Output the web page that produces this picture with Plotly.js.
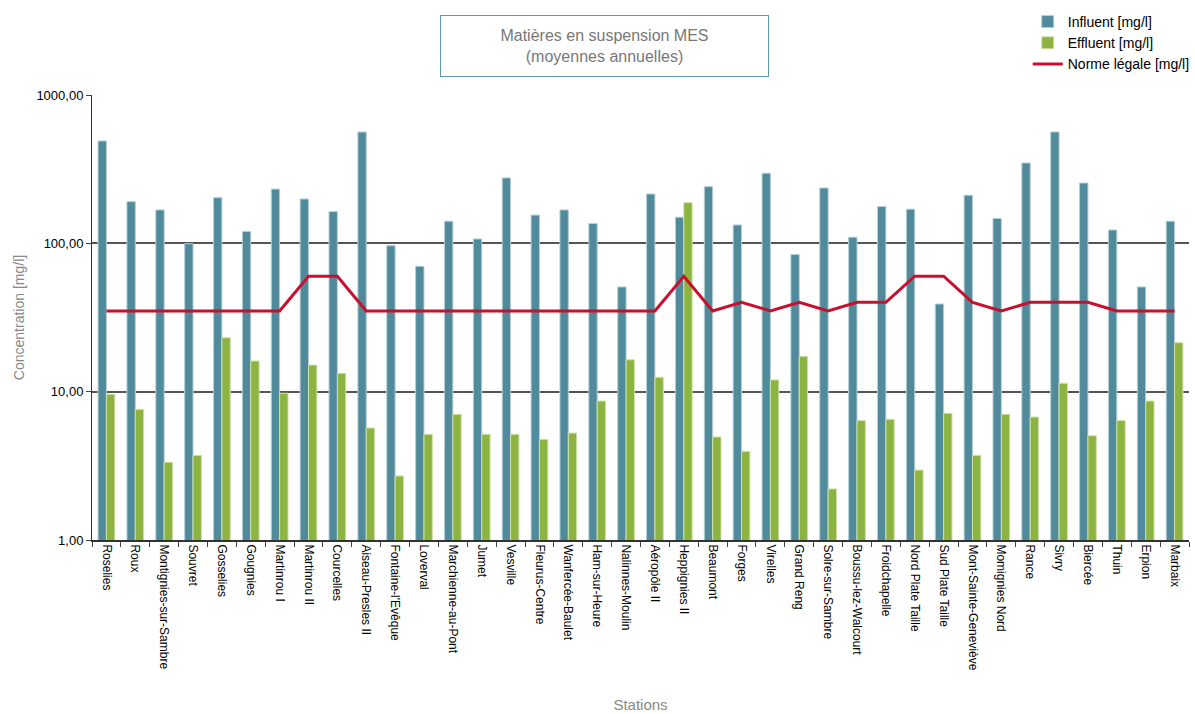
<!DOCTYPE html>
<html>
<head>
<meta charset="utf-8">
<script src="https://cdn.plot.ly/plotly-3.0.1.min.js"></script>
<style>
  html, body { margin: 0; padding: 0; background: #ffffff; }
  #chart { width: 1195px; height: 714px; }
</style>
</head>
<body>
<div id="chart"></div>
<script>
// Stations d'épuration – concentrations moyennes annuelles en MES
const stations = [
  "Roselies", "Roux", "Montignies-sur-Sambre", "Souvret", "Gosselies", "Gougnies",
  "Martinrou I", "Martinrou II", "Courcelles", "Aiseau-Presles II", "Fontaine-l'Evêque",
  "Loverval", "Marchienne-au-Pont", "Jumet", "Vesville", "Fleurus-Centre",
  "Wanfercée-Baulet", "Ham-sur-Heure", "Nalinnes-Moulin", "Aéropôle II", "Heppignies II",
  "Beaumont", "Forges", "Virelles", "Grand Reng", "Solre-sur-Sambre",
  "Boussu-lez-Walcourt", "Froidchapelle", "Nord Plate Taille", "Sud Plate Taille",
  "Mont-Sainte-Geneviève", "Momignies Nord", "Rance", "Sivry", "Biercée", "Thuin",
  "Erpion", "Marbaix"
];

const influent = [
  490, 191, 168, 99.5, 203, 120,
  232, 199, 164, 563, 96.4,
  70, 141, 107, 276, 155,
  168, 136, 50.8, 215, 150,
  241, 133, 297, 84, 236,
  110, 177, 170, 39,
  211, 147, 348, 563, 255, 123,
  50.8, 141
];

const effluent = [
  9.6, 7.6, 3.34, 3.72, 23.1, 16.1,
  9.75, 15.1, 13.3, 5.69, 2.7,
  5.16, 7.03, 5.16, 5.16, 4.77,
  5.26, 8.65, 16.4, 12.5, 188,
  4.95, 3.96, 12.0, 17.3, 2.21,
  6.38, 6.51, 2.96, 7.15,
  3.72, 7.03, 6.75, 11.4, 5.05, 6.38,
  8.65, 21.4
];

const norme = [
  35, 35, 35, 35, 35, 35,
  35, 60, 60, 35, 35,
  35, 35, 35, 35, 35,
  35, 35, 35, 35, 60,
  35, 40, 35, 40, 35,
  40, 40, 60, 60,
  40, 35, 40, 40, 40, 35,
  35, 35
];

const yTickVals = [1, 10, 100, 1000];
const yTickText = ["1,00", "10,00", "100,00", "1000,00"];

const FONT = "Liberation Sans, Arial, Helvetica, sans-serif";

const traces = [
  {
    type: "bar",
    name: "Influent [mg/l]",
    x: stations,
    y: influent,
    marker: { color: "#518b9b", line: { color: "#b3cfd6", width: 1 } },
    hoverinfo: "skip"
  },
  {
    type: "bar",
    name: "Effluent [mg/l]",
    x: stations,
    y: effluent,
    marker: { color: "#8db342", line: { color: "#cfe2a8", width: 1 } },
    hoverinfo: "skip"
  },
  {
    type: "scatter",
    mode: "lines",
    name: "Norme légale [mg/l]",
    x: stations,
    y: norme,
    line: { color: "#c8102e", width: 3 },
    hoverinfo: "skip"
  }
];

const layout = {
  width: 1195,
  height: 714,
  paper_bgcolor: "#ffffff",
  plot_bgcolor: "#ffffff",
  font: { family: FONT, color: "#000000", size: 13 },
  margin: { l: 92, r: 0, t: 95, b: 174, pad: 0 },
  barmode: "group",
  bargap: 0.42,
  bargroupgap: 0,
  showlegend: true,
  legend: {
    x: 0.853, y: 1.2, xanchor: "left", yanchor: "top",
    font: { family: FONT, size: 14, color: "#000000" },
    bgcolor: "rgba(0,0,0,0)",
    tracegroupgap: 0
  },
  xaxis: {
    type: "category",
    tickangle: 90,
    tickson: "boundaries",
    ticks: "outside",
    ticklen: 5,
    tickwidth: 1,
    tickcolor: "#444444",
    showline: true,
    linecolor: "#333333",
    linewidth: 2,
    showgrid: false,
    tickfont: { family: FONT, size: 12, color: "#000000" },
    title: { text: "Stations", font: { family: FONT, size: 15, color: "#888888" }, standoff: 30 },
    automargin: false
  },
  yaxis: {
    type: "log",
    range: [0, 3],
    tickvals: yTickVals,
    ticktext: yTickText,
    ticks: "outside",
    ticklen: 5,
    tickcolor: "#444444",
    showline: true,
    linecolor: "#333333",
    linewidth: 1,
    showgrid: true,
    gridcolor: "#555555",
    gridwidth: 2,
    zeroline: false,
    tickfont: { family: FONT, size: 13, color: "#000000" },
    title: { text: "Concentration [mg/l]", font: { family: FONT, size: 14, color: "#888888" }, standoff: 8 },
    automargin: false
  },
  annotations: [
    {
      xref: "paper", yref: "paper",
      x: (607 - 92) / 1103, y: 1.11,
      xanchor: "center", yanchor: "middle",
      text: "Matières en suspension MES<br>(moyennes annuelles)",
      showarrow: false,
      align: "center",
      font: { family: FONT, size: 16, color: "#777777" },
      bordercolor: "#5b9aa8",
      borderwidth: 1,
      width: 325,
      height: 58,
      bgcolor: "#ffffff"
    }
  ]
};

Plotly.newPlot("chart", traces, layout, { displayModeBar: false, staticPlot: true });
</script>
</body>
</html>
